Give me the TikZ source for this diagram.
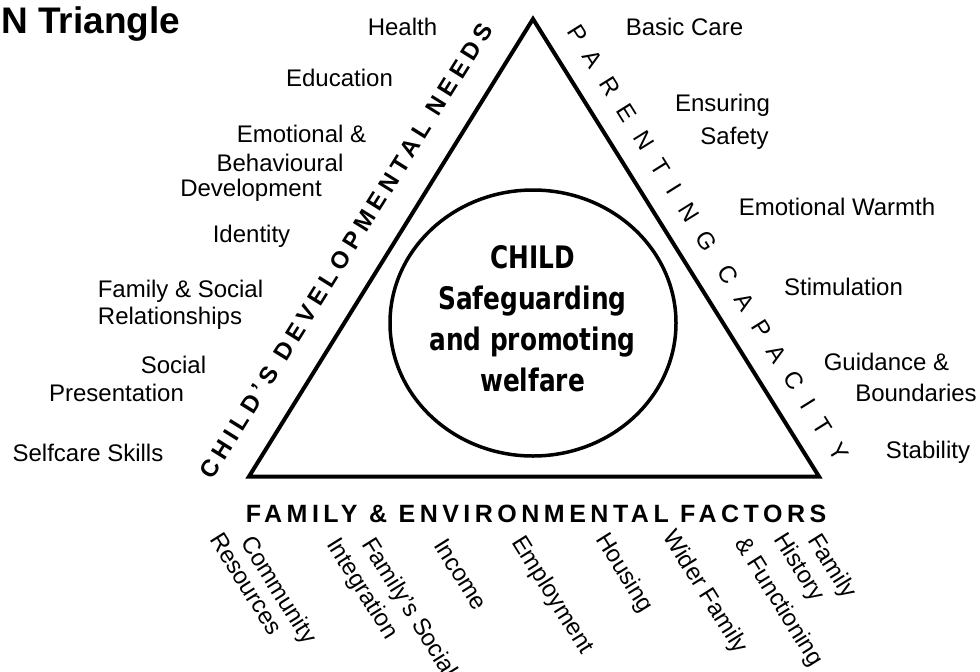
\documentclass[tikz,border=0pt]{standalone}
\usepackage{fontspec}
\setmainfont{Liberation Sans}
\newfontfamily\centerfamily[FakeStretch=0.8]{DejaVu Sans}
\newfontfamily\headfamily[LetterSpace=18]{Liberation Sans}
\newfontfamily\leftfamily[LetterSpace=22]{Liberation Sans}
\newfontfamily\rightfamily[LetterSpace=64]{Liberation Sans}
\usetikzlibrary{shapes.geometric}
\newcommand{\lblfont}{\fontsize{24}{28}\selectfont}
\tikzset{
  lbl/.style={font=\lblfont, inner sep=0pt, anchor=base},
  rlbl/.style={font=\lblfont, inner sep=0pt, anchor=base west, rotate=-58},
}
\begin{document}
\begin{tikzpicture}[x=1pt,y=-1pt]
\useasboundingbox (0,0) rectangle (980,672);
% title
\node[font=\bfseries\fontsize{37}{40}\selectfont, anchor=base west, inner sep=0pt] (title) at (1,33) {N Triangle};
% triangle
\coordinate (A) at (533,19);
\coordinate (B) at (249,476.5);
\coordinate (C) at (819,476.5);
\draw[line width=4pt, line join=miter] (A) -- (B) -- (C) -- cycle;
% circle
\node[draw, ellipse, line width=3.5pt, minimum width=286pt, minimum height=266pt, inner sep=0pt] (circ) at (533,323) {};
\node[font=\centerfamily\bfseries\fontsize{31}{41}\selectfont, align=center, inner sep=0pt] (child) at (532.5,318.5) {CHILD\\Safeguarding\\and promoting\\welfare};
% side labels
\node[rotate=58, font=\leftfamily\bfseries\fontsize{24}{28}\selectfont, inner sep=0pt] (cdn) at (346,251) {CHILD’S DEVELOPMENTAL NEEDS};
\node[rotate=-58, font=\rightfamily\fontsize{24}{28}\selectfont, inner sep=0pt] (pc) at (708,243) {PARENTING CAPACITY};
\node[font=\headfamily\bfseries\fontsize{25}{28}\selectfont, anchor=base, inner sep=0pt] (fef) at (536,522) {FAMILY \& ENVIRONMENTAL FACTORS};
% left labels
\node[lbl] (health) at (402.5,35) {Health};
\node[lbl] (educ) at (339.5,86) {Education};
\node[lbl] (emo1) at (301.5,142.7) {Emotional \&};
\node[lbl] (emo2) at (280,171) {Behavioural};
\node[lbl] (emo3) at (251,196.7) {Development};
\node[lbl] (ident) at (251.5,242.3) {Identity};
\node[lbl] (fam1) at (180.5,297) {Family \& Social};
\node[lbl] (fam2) at (170,324) {Relationships};
\node[lbl] (soc1) at (173.5,373) {Social};
\node[lbl] (soc2) at (116.5,401.7) {Presentation};
\node[lbl] (self) at (88,461) {Selfcare Skills};
% right labels
\node[lbl] (basic) at (684.5,35) {Basic Care};
\node[lbl] (ens1) at (722.5,111.7) {Ensuring};
\node[lbl] (ens2) at (734.5,144) {Safety};
\node[lbl] (warm) at (837,215) {Emotional Warmth};
\node[lbl] (stim) at (843.5,295) {Stimulation};
\node[lbl] (guid1) at (886.5,370) {Guidance \&};
\node[lbl] (guid2) at (916,401.7) {Boundaries};
\node[lbl] (stab) at (928,458.3) {Stability};
% bottom labels
\node[rlbl] (com1) at (240,542.2) {Community};
\node[rlbl] (com2) at (209,539.2) {Resources};
\node[rlbl] (fs1) at (361,544) {Family’s Social};
\node[rlbl] (fs2) at (326,544) {Integration};
\node[rlbl] (inc) at (433,545) {Income};
\node[rlbl] (emp) at (511,542) {Employment};
\node[rlbl] (hous) at (595,539) {Housing};
\node[rlbl] (wider) at (662,536) {Wider Family};
\node[rlbl] (fh1) at (807,540) {Family};
\node[rlbl] (fh2) at (773,539) {History};
\node[rlbl] (fh3) at (734,543) {\& Functioning};
\end{tikzpicture}
\end{document}
